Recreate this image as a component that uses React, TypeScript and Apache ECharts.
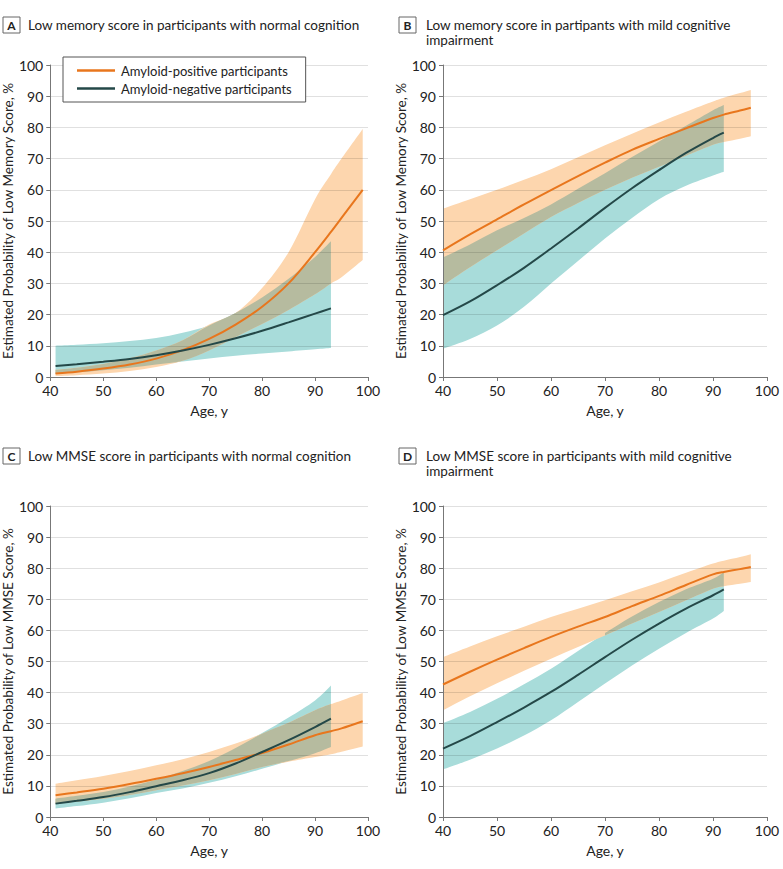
import React, { useEffect, useRef } from "react";
import * as echarts from "echarts";

// ---------- data ----------
const agesA = [41, 45, 50, 55, 60, 65, 70, 75, 80, 85, 90, 93, 95, 99];
const agesB = [40, 45, 50, 55, 60, 65, 70, 75, 80, 85, 90, 92, 95, 97];

// Panel A: low memory score, normal cognition
const posLineA = [1.1, 1.7, 2.7, 4.0, 5.9, 8.6, 12.2, 16.8, 22.5, 30.0, 40.0, 46.5, 51.0, 60.0];
const posUpA = [2.3, 3.0, 4.2, 6.0, 8.5, 11.8, 16.8, 20.5, 28.5, 40.0, 57.0, 65.0, 70.0, 79.5];
const posLoA = [0.3, 0.6, 1.1, 1.9, 3.2, 5.2, 8.5, 12.8, 17.0, 21.5, 26.5, 30.0, 32.0, 37.5];
const negLineA = [3.5, 4.1, 4.9, 5.8, 7.0, 8.5, 10.3, 12.4, 14.8, 17.5, 20.3, 22.0];
const negUpA = [10.0, 10.3, 10.8, 11.5, 12.5, 14.2, 16.5, 20.5, 25.5, 31.5, 38.5, 43.5];
const negLoA = [1.0, 1.5, 2.2, 3.0, 4.0, 5.0, 5.9, 6.8, 7.5, 8.2, 8.9, 9.3];

// Panel B: low memory score, mild cognitive impairment
const posLineB = [40.6, 45.7, 50.5, 55.3, 59.9, 64.4, 68.7, 72.8, 76.3, 79.7, 83.0, 84.1, 85.4, 86.3];
const posUpB = [54.0, 57.0, 60.0, 63.2, 66.6, 70.4, 74.3, 78.0, 81.6, 85.0, 88.3, 89.5, 91.0, 92.0];
const posLoB = [29.4, 35.2, 40.6, 46.0, 51.3, 55.8, 60.0, 63.9, 67.4, 70.9, 74.4, 75.3, 76.4, 77.2];
const negLineB = [19.8, 24.2, 29.4, 35.0, 41.2, 47.6, 54.2, 60.5, 66.3, 71.8, 76.6, 78.3];
const negUpB = [38.3, 42.5, 47.0, 51.0, 55.3, 60.3, 65.3, 70.5, 75.5, 80.5, 85.5, 87.2];
const negLoB = [9.1, 12.2, 16.5, 22.5, 30.0, 37.2, 44.4, 51.0, 57.0, 61.3, 64.6, 65.8];

// Panel C: low MMSE score, normal cognition
const posLineC = [7.0, 7.9, 9.1, 10.6, 12.3, 14.1, 16.1, 18.3, 20.6, 23.3, 26.3, 27.6, 28.5, 30.8];
const posUpC = [10.7, 11.8, 13.2, 14.8, 16.6, 18.6, 20.9, 23.6, 26.8, 30.3, 34.3, 36.3, 37.5, 39.9];
const posLoC = [4.3, 5.0, 5.9, 7.1, 8.6, 10.1, 11.8, 13.8, 16.1, 17.8, 19.3, 20.2, 21.0, 22.7];
const negLineC = [4.3, 5.2, 6.4, 8.0, 9.9, 11.8, 14.1, 17.2, 20.9, 24.7, 28.9, 31.6];
const negUpC = [5.9, 6.8, 8.0, 9.8, 12.0, 14.8, 18.0, 22.2, 27.0, 32.0, 37.5, 42.3];
const negLoC = [2.7, 3.5, 4.6, 6.0, 7.7, 9.2, 11.0, 13.1, 15.5, 18.0, 20.5, 22.5];

// Panel D: low MMSE score, mild cognitive impairment
const posLineD = [42.6, 46.7, 50.6, 54.3, 57.9, 61.2, 64.3, 67.8, 71.1, 74.6, 78.0, 78.8, 79.7, 80.4];
const posUpD = [51.4, 54.8, 58.1, 61.2, 64.3, 67.0, 69.7, 72.6, 75.4, 78.5, 81.5, 82.4, 83.6, 84.5];
const posLoD = [34.3, 38.8, 43.0, 47.0, 50.9, 54.7, 58.4, 62.2, 65.9, 69.7, 73.4, 74.2, 75.0, 75.6];
const negLineD = [22.0, 26.0, 30.5, 35.2, 40.2, 45.7, 51.4, 57.0, 62.2, 67.0, 71.3, 73.2];
const negUpD = [30.2, 33.8, 38.0, 42.7, 47.7, 53.4, 59.2, 64.5, 69.1, 73.2, 76.6, 78.8];
const negLoD = [15.3, 18.4, 22.0, 26.2, 31.1, 37.0, 42.9, 48.7, 54.1, 59.2, 63.8, 66.2];

const xTicks = [40, 50, 60, 70, 80, 90, 100];
const yTicks = [0, 10, 20, 30, 40, 50, 60, 70, 80, 90, 100];

const POS_NAME = "Amyloid-positive participants";
const NEG_NAME = "Amyloid-negative participants";

const panels = [
  {
    letter: "A",
    title: ["Low memory score in participants with normal cognition"],
    yName: "Estimated Probability of Low Memory Score, %",
    ages: agesA,
    pos: [posLoA, posLineA, posUpA],
    neg: [negLoA, negLineA, negUpA],
  },
  {
    letter: "B",
    title: ["Low memory score in partipants with mild cognitive", "impairment"],
    yName: "Estimated Probability of Low Memory Score, %",
    ages: agesB,
    pos: [posLoB, posLineB, posUpB],
    neg: [negLoB, negLineB, negUpB],
  },
  {
    letter: "C",
    title: ["Low MMSE score in participants with normal cognition"],
    yName: "Estimated Probability of Low MMSE Score, %",
    ages: agesA,
    pos: [posLoC, posLineC, posUpC],
    neg: [negLoC, negLineC, negUpC],
  },
  {
    letter: "D",
    title: ["Low MMSE score in participants with mild cognitive", "impairment"],
    yName: "Estimated Probability of Low MMSE Score, %",
    ages: agesB,
    pos: [posLoD, posLineD, posUpD],
    neg: [negLoD, negLineD, negUpD],
  },
];

// ---------- layout / style ----------
const FONT = "Lato, 'Open Sans', sans-serif";
const ORANGE = "#E8761D";
const DARK = "#244848";
const PEACH = "#FDD6AE";
const TEAL = "#A8DCDA";
const OLIVE = "#B6BB9F";
const TEXT = "#222";
const AXIS = "#777";

const grids = [
  { left: 43, top: 65, width: 325, height: 312 },
  { left: 443, top: 65, width: 324, height: 312 },
  { left: 43, top: 506, width: 325, height: 311 },
  { left: 443, top: 506, width: 324, height: 311 },
];
const titlePos = [
  { x: 3, y: 17, tx: 28 },
  { x: 399, y: 17, tx: 426 },
  { x: 3, y: 448, tx: 28 },
  { x: 399, y: 448, tx: 426 },
];

function curvePath(pts: number[][]): string {
  let d = "";
  for (let i = 0; i < pts.length - 1; i++) {
    const p0 = pts[i - 1] || pts[i];
    const p1 = pts[i];
    const p2 = pts[i + 1];
    const p3 = pts[i + 2] || p2;
    const c1x = p1[0] + (p2[0] - p0[0]) / 6;
    const c1y = p1[1] + (p2[1] - p0[1]) / 6;
    const c2x = p2[0] - (p3[0] - p1[0]) / 6;
    const c2y = p2[1] - (p3[1] - p1[1]) / 6;
    d += ` C${c1x},${c1y} ${c2x},${c2y} ${p2[0]},${p2[1]}`;
  }
  return d;
}

function bandSeries(gi: number, xs: number[], lo: number[], hi: number[], color: string, z: number) {
  return {
    type: "custom",
    xAxisIndex: gi,
    yAxisIndex: gi,
    silent: true,
    z,
    data: [[70, 50]],
    renderItem: (_params: any, api: any) => {
      const up = xs.map((x, i) => api.coord([x, hi[i]]));
      const dn = xs.map((x, i) => api.coord([x, lo[i]])).reverse();
      const d =
        `M${up[0][0]},${up[0][1]}` +
        curvePath(up) +
        ` L${dn[0][0]},${dn[0][1]}` +
        curvePath(dn) +
        " Z";
      return { type: "path", shape: { pathData: d }, style: { fill: color } };
    },
  };
}

function overlapSegments(xs: number[], oLo: number[], oHi: number[], tLo: number[], tHi: number[]) {
  const segs: { x: number[]; lo: number[]; hi: number[] }[] = [];
  let cur: any = null;
  const n = Math.min(tLo.length, oLo.length);
  for (let i = 0; i < n; i++) {
    const lo = Math.max(oLo[i], tLo[i]);
    const hi = Math.min(oHi[i], tHi[i]);
    if (hi > lo) {
      if (!cur) {
        cur = { x: [], lo: [], hi: [] };
        segs.push(cur);
      }
      cur.x.push(xs[i]);
      cur.lo.push(lo);
      cur.hi.push(hi);
    } else cur = null;
  }
  return segs;
}

function lineSeries(gi: number, name: string, xs: number[], v: number[], color: string) {
  return {
    type: "line",
    name,
    xAxisIndex: gi,
    yAxisIndex: gi,
    data: v.map((y, i) => [xs[i], y]),
    smooth: 0.33,
    showSymbol: false,
    symbol: "none",
    silent: true,
    z: 5,
    color,
    itemStyle: { color },
    lineStyle: { color, width: 2 },
  };
}

export default function App() {
  const ref = useRef<HTMLDivElement>(null);

  useEffect(() => {
    document.body.style.margin = "0";
    if (!ref.current) return;
    const chart = echarts.init(ref.current, undefined, { renderer: "svg" });

    const series: any[] = [];
    panels.forEach((p, gi) => {
      const nT = p.neg[0].length;
      const tx = p.ages.slice(0, nT);
      series.push(bandSeries(gi, tx, p.neg[0], p.neg[2], TEAL, 1));
      series.push(bandSeries(gi, p.ages, p.pos[0], p.pos[2], PEACH, 1));
      overlapSegments(p.ages, p.pos[0], p.pos[2], p.neg[0], p.neg[2]).forEach((s) =>
        series.push(bandSeries(gi, s.x, s.lo, s.hi, OLIVE, 1))
      );
      series.push(lineSeries(gi, POS_NAME, p.ages, p.pos[1], ORANGE));
      series.push(lineSeries(gi, NEG_NAME, tx, p.neg[1], DARK));
    });

    const xAxis = grids.map((_, gi) => ({
      type: "value",
      gridIndex: gi,
      min: xTicks[0],
      max: xTicks[xTicks.length - 1],
      interval: xTicks[1] - xTicks[0],
      z: 3,
      name: "Age, y",
      nameLocation: "middle",
      nameGap: 26,
      nameTextStyle: { fontSize: 14, color: TEXT, fontFamily: FONT },
      axisLine: { show: true, onZero: false, lineStyle: { color: AXIS, width: 1 } },
      axisTick: { show: true, length: 4, lineStyle: { color: AXIS } },
      axisLabel: { fontSize: 14, color: TEXT, margin: 6, fontFamily: FONT },
      splitLine: { show: false },
    }));

    const yAxis = grids.map((_, gi) => ({
      type: "value",
      gridIndex: gi,
      min: yTicks[0],
      max: yTicks[yTicks.length - 1],
      interval: yTicks[1] - yTicks[0],
      z: 3,
      name: panels[gi].yName,
      nameLocation: "middle",
      nameGap: 29,
      nameTextStyle: { fontSize: 13.5, color: TEXT, fontFamily: FONT },
      axisLine: { show: true, lineStyle: { color: AXIS, width: 1 } },
      axisTick: { show: true, length: 4, lineStyle: { color: AXIS } },
      axisLabel: { fontSize: 14, color: TEXT, margin: 7, fontFamily: FONT },
      splitLine: { show: true, lineStyle: { color: "rgba(0,0,0,0.12)", width: 1 } },
    }));

    const graphic: any[] = [];
    panels.forEach((p, gi) => {
      const t = titlePos[gi];
      graphic.push({
        type: "rect",
        shape: { x: t.x, y: t.y, width: 17, height: 16 },
        style: { fill: "#fff", stroke: "#666", lineWidth: 1 },
      });
      graphic.push({
        type: "text",
        x: t.x + 8.5,
        y: t.y + 8.5,
        style: {
          text: p.letter,
          fontSize: 12,
          fontWeight: "bold",
          fontFamily: FONT,
          fill: TEXT,
          align: "center",
          verticalAlign: "middle",
        },
      });
      p.title.forEach((line, li) => {
        graphic.push({
          type: "text",
          x: t.tx,
          y: t.y + 8 + li * 15,
          style: {
            text: line,
            fontSize: 13.5,
            fontFamily: FONT,
            fill: TEXT,
            align: "left",
            verticalAlign: "middle",
          },
        });
      });
    });

    chart.setOption({
      animation: false,
      backgroundColor: "#fff",
      textStyle: { fontFamily: FONT },
      grid: grids.map((g) => ({ ...g, containLabel: false })),
      xAxis,
      yAxis,
      legend: {
        data: [POS_NAME, NEG_NAME],
        orient: "vertical",
        left: 63,
        top: 57,
        z: 10,
        backgroundColor: "#fff",
        borderColor: "#555",
        borderWidth: 1,
        borderRadius: 0,
        padding: [7, 14, 7, 14],
        itemWidth: 38,
        itemHeight: 2.5,
        itemGap: 5,
        icon: "rect",
        selectedMode: false,
        textStyle: { fontSize: 13, color: TEXT, fontFamily: FONT, padding: [0, 0, 0, 1] },
      },
      graphic,
      series,
    });

    return () => chart.dispose();
  }, []);

  return <div ref={ref} style={{ width: 783, height: 869 }} />;
}
